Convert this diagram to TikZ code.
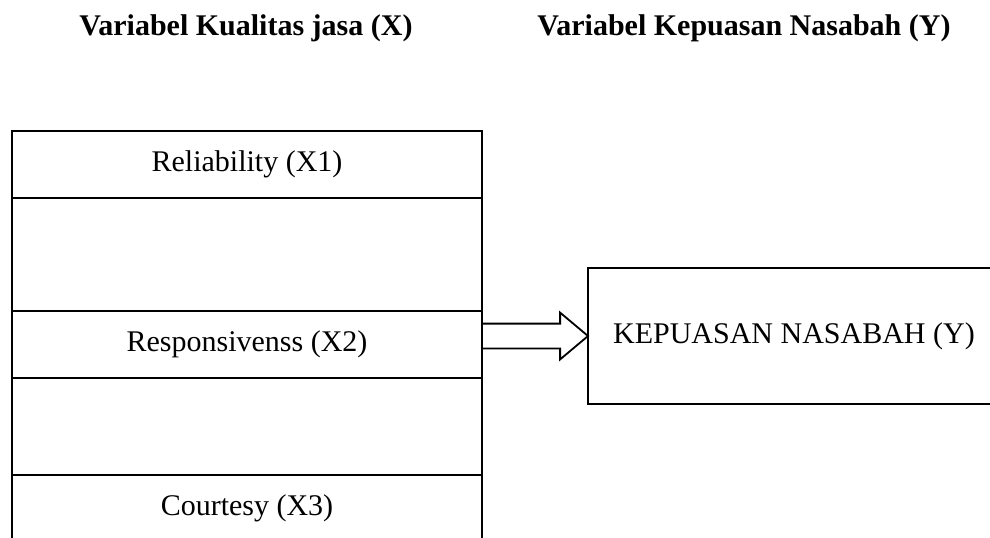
\documentclass[tikz,border=0pt]{standalone}
\usepackage{fontspec}
\setmainfont{Liberation Serif}
\usetikzlibrary{calc,shapes.arrows}

\begin{document}
\begin{tikzpicture}[x=.5pt,y=-.5pt,line width=.9pt,
    every node/.style={font=\fontsize{15}{18}\selectfont},
    cell/.style={draw,minimum width=235pt,minimum height=33.5pt,inner sep=0pt,outer sep=0pt},
    blockarr/.style={draw,single arrow,single arrow head extend=5.5pt,
      single arrow tip angle=80,inner xsep=0pt,inner ysep=5.75pt,minimum height=53pt,outer sep=0pt}]
      \clip (0,0) rectangle (990,537);
      % judul kedua variabel
      \node[font=\fontsize{15}{18}\selectfont\bfseries] (tx) at (246,28) {Variabel Kualitas jasa (X)};
      \node[font=\fontsize{15}{18}\selectfont\bfseries] (ty) at (744,28) {Variabel Kepuasan Nasabah (Y)};
      % indikator variabel X
      \foreach \nm/\yy/\txt in {%
        x1/164.5/Reliability (X1),
        x2/344.5/Responsivenss (X2),
        x3/508.5/Courtesy (X3)}{%
          \node[cell] (\nm) at (247,\yy) {\txt};
        }
      \draw (x1.south west) -- (x3.north west);
      \draw (x1.south east) -- (x3.north east);
      % variabel Y
      \node[draw,minimum width=206pt,minimum height=68pt,inner sep=0pt,outer sep=0pt] (y) at (794,336) {KEPUASAN NASABAH (Y)};
      \node[blockarr,anchor=tip] (arr) at (y.west) {};
    \end{tikzpicture}
\end{document}
